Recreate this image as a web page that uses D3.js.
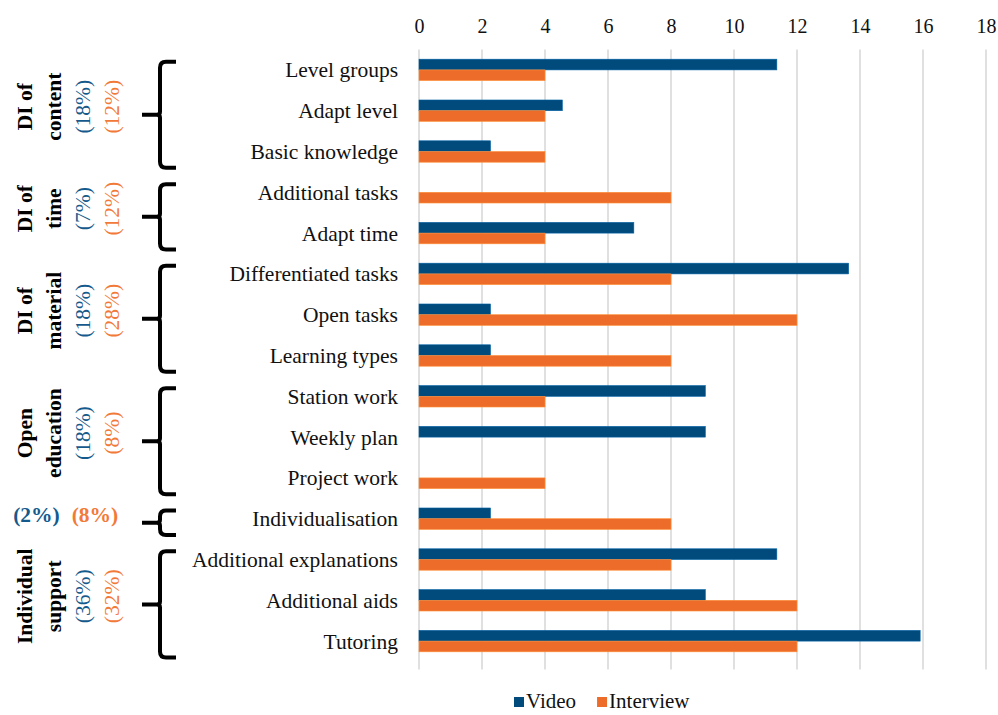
<!DOCTYPE html>
<html>
<head>
<meta charset="utf-8">
<script src="https://cdn.jsdelivr.net/npm/d3@7"></script>
<style>
  html, body { margin: 0; padding: 0; background: #fff; }
  svg { display: block; }
</style>
</head>
<body>
<svg id="chart" width="998" height="715"></svg>
<script>
// Categories of differentiated instruction, top to bottom
const categories = [
  "Level groups", "Adapt level", "Basic knowledge",
  "Additional tasks", "Adapt time",
  "Differentiated tasks", "Open tasks", "Learning types",
  "Station work", "Weekly plan", "Project work",
  "Individualisation",
  "Additional explanations", "Additional aids", "Tutoring"
];
const videoValues = [11.36, 4.55, 2.27, 0, 6.82, 13.64, 2.27, 2.27, 9.09, 9.09, 0, 2.27, 11.36, 9.09, 15.91];
const interviewValues = [4, 4, 4, 8, 4, 8, 12, 8, 4, 0, 4, 8, 8, 12, 12];
const xTicks = [0, 2, 4, 6, 8, 10, 12, 14, 16, 18];
const seriesNames = ["Video", "Interview"];

// Groups: name lines, first/last category, video share, interview share
const groupNames = [["DI of", "content"], ["DI of", "time"], ["DI of", "material"], ["Open", "education"], [], ["Individual", "support"]];
const groupFirst = [0, 3, 5, 8, 11, 12];
const groupLast = [2, 4, 7, 10, 11, 14];
const groupVideoPct = ["(18%)", "(7%)", "(18%)", "(18%)", "(2%)", "(36%)"];
const groupInterviewPct = ["(12%)", "(12%)", "(28%)", "(8%)", "(8%)", "(32%)"];

const colors = { Video: "#004a7c", Interview: "#ee6c2a" };
const textBlue = "#155a8c", textOrange = "#f27a38";
const FONT = "Liberation Serif";
const FS = 21.5;

const svg = d3.select("#chart");
const margin = { left: 419, top: 49.5, bottom: 53.5 };
const W = 998, H = 715;

const x = d3.scaleLinear().domain([0, 18]).range([margin.left, 986]);
const y = d3.scaleBand().domain(categories).range([margin.top, H - margin.bottom]).paddingInner(0.475).paddingOuter(0.2375);
const step = y.step();
const center = c => y(c) + y.bandwidth() / 2;
const sub = d3.scaleBand().domain(seriesNames).range([0, y.bandwidth()]);

// Top axis labels
const axis = d3.axisTop(x).tickValues(xTicks).tickSize(0).tickPadding(0).tickFormat(d3.format("d"));
const gAxis = svg.append("g").attr("transform", "translate(0, 33)").call(axis);
gAxis.attr("font-family", FONT).attr("font-size", 20);
gAxis.select(".domain").remove();
gAxis.selectAll("text").attr("fill", "#111").attr("dy", 0);

// Vertical gridlines
svg.append("g").selectAll("line").data(xTicks).join("line")
  .attr("x1", d => x(d)).attr("x2", d => x(d))
  .attr("y1", margin.top).attr("y2", H - margin.bottom + 8)
  .attr("stroke", "#d9d9d9").attr("stroke-width", 1.6);

// Bars
const rows = categories.map((c, i) => ({ c, Video: videoValues[i], Interview: interviewValues[i] }));
const gBars = svg.append("g");
seriesNames.forEach(s => {
  gBars.selectAll(null).data(rows.filter(r => r[s] > 0)).join("rect")
    .attr("x", x(0))
    .attr("y", d => y(d.c) + sub(s))
    .attr("width", d => x(d[s]) - x(0))
    .attr("height", sub.bandwidth())
    .attr("fill", colors[s])
    .attr("stroke", d3.color(colors[s]).brighter(0.8))
    .attr("stroke-width", 0.6);
});

// Category labels
svg.append("g").attr("font-family", FONT).attr("font-size", FS)
  .selectAll("text").data(categories).join("text")
  .attr("x", 398).attr("y", d => center(d))
  .attr("dy", "0.35em").attr("text-anchor", "end")
  .attr("fill", "#111")
  .text(d => d);

// Curly braces for groups
function bracePath(xTip, xSpine, xEnd, y0, y1) {
  const ym = (y0 + y1) / 2;
  const r = 6;
  return `M${xEnd},${y0} L${xSpine + r},${y0} Q${xSpine},${y0} ${xSpine},${y0 + r}
          L${xSpine},${ym - 3} Q${xSpine},${ym} ${xSpine - 3},${ym} L${xTip},${ym}
          M${xSpine - 3},${ym} Q${xSpine},${ym} ${xSpine},${ym + 3}
          L${xSpine},${y1 - r} Q${xSpine},${y1} ${xSpine + r},${y1} L${xEnd},${y1}`;
}
const gBr = svg.append("g");
groupFirst.forEach((f, i) => {
  const y0 = center(categories[f]) - step * 0.2;
  const y1 = center(categories[groupLast[i]]) + step * 0.4;
  gBr.append("path")
    .attr("d", bracePath(142, 160, 176, y0, y1))
    .attr("fill", "none").attr("stroke", "#000").attr("stroke-width", 4)
    .attr("stroke-linejoin", "round");
});

// Group labels (rotated) with shares
const gLab = svg.append("g").attr("font-family", FONT).attr("font-size", FS);
groupFirst.forEach((f, i) => {
  const yc = (center(categories[f]) + center(categories[groupLast[i]])) / 2 - 4;
  if (groupNames[i].length === 0) {
    gLab.append("text").attr("x", 36.5).attr("y", yc).attr("dy", "0.35em")
      .attr("text-anchor", "middle").attr("font-weight", "bold")
      .attr("fill", textBlue).text(groupVideoPct[i]);
    gLab.append("text").attr("x", 95).attr("y", yc).attr("dy", "0.35em")
      .attr("text-anchor", "middle").attr("font-weight", "bold")
      .attr("fill", textOrange).text(groupInterviewPct[i]);
    return;
  }
  const cols = [
    { x: 24, t: groupNames[i][0], bold: true, fill: "#000" },
    { x: 53, t: groupNames[i][1], bold: true, fill: "#000" },
    { x: 82, t: groupVideoPct[i], bold: false, fill: textBlue },
    { x: 111, t: groupInterviewPct[i], bold: false, fill: textOrange }
  ];
  cols.forEach(c => {
    gLab.append("text")
      .attr("transform", `translate(${c.x},${yc}) rotate(-90)`)
      .attr("dy", "0.35em").attr("text-anchor", "middle")
      .attr("font-weight", c.bold ? "bold" : "normal")
      .attr("fill", c.fill).text(c.t);
  });
});

// Legend
const lg = svg.append("g").attr("transform", "translate(514, 708)").attr("font-family", FONT).attr("font-size", 21);
let lx = 0;
seriesNames.forEach(s => {
  lg.append("rect").attr("x", lx).attr("y", -11).attr("width", 10).attr("height", 10).attr("fill", colors[s]);
  const t = lg.append("text").attr("x", lx + 12).attr("y", 0).attr("fill", "#111").text(s);
  lx += 12 + t.node().getComputedTextLength() + 21;
});
</script>
</body>
</html>
